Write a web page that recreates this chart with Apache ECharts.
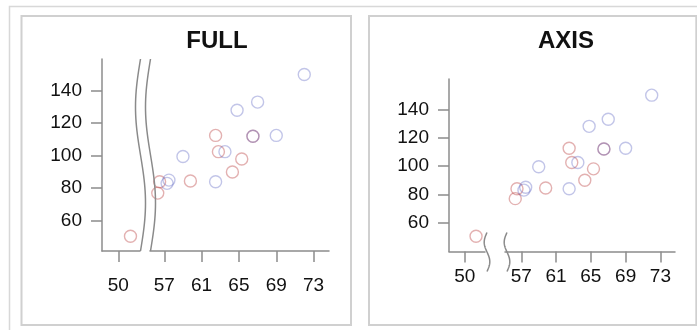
<!DOCTYPE html>
<html>
<head>
<meta charset="utf-8">
<script src="https://cdn.jsdelivr.net/npm/echarts@6/dist/echarts.min.js"></script>
<style>
  html, body { margin: 0; padding: 0; background: #fff; }
  #chart { width: 697px; height: 330px; }
</style>
</head>
<body>
<div id="chart"></div>
<script>
// Height (in) against weight (lb), one series per sex
const heightF = [56.5, 65.3, 62.8, 59.8, 62.5, 51.3, 64.3, 56.3, 66.5];
const weightF = [84.0, 98.0, 102.5, 84.5, 112.5, 50.5, 90.0, 77.0, 112.0];
const heightM = [69.0, 63.5, 57.3, 62.5, 59.0, 72.0, 64.8, 67.0, 57.5, 66.5];
const weightM = [112.5, 102.5, 83.0, 84.0, 99.5, 150.0, 128.0, 133.0, 85.0, 112.0];

// Tick values on each side of the x-axis break, and on the y-axis
const xTicksLow = [50];
const xTicksHigh = [57, 61, 65, 69, 73];
const yTicks = [60, 80, 100, 120, 140];

const panelTitles = ['FULL', 'AXIS'];

// Layout of the two panels: each one is split into a low and a high x segment
const panels = [
  { title: panelTitles[0], mode: 'full', left: 102, top: 59, bottom: 251, lowWidth: 38, gap: 10, right: 329,
    yMin: 41.4, yMax: 159.5, xMin: 48.25, lowMax: 52.32, highMin: 55.47, xMax: 74.65,
    xLabelMargin: 25, titleX: 217 },
  { title: panelTitles[1], mode: 'axis', left: 449, top: 79, bottom: 251.5, lowWidth: 36, gap: 20, right: 675,
    yMin: 39.7, yMax: 161.4, xMin: 48.19, lowMax: 52.33, highMin: 55.12, xMax: 74.68,
    xLabelMargin: 16, titleX: 566 }
];

const AXIS_COLOR = '#8c8c8c';
const LABEL_FONT = { fontFamily: 'Liberation Sans', fontSize: 19, color: '#111' };
const COLOR_F = 'rgba(185, 60, 60, 0.5)';
const COLOR_M = 'rgba(85, 95, 190, 0.45)';

const grids = [], xAxes = [], yAxes = [], series = [];

function pairs(xs, ys, keep) {
  const out = [];
  xs.forEach((x, i) => { if (keep(x)) out.push([x, ys[i]]); });
  return out;
}

// Wavy break marker drawn on the axis scale of a segment
function breakMark(panel, shift) {
  return function (params, api) {
    const xv = api.value(0);
    const base = api.coord([xv, panel.yMin]);
    const topP = api.coord([xv, panel.yMax]);
    let y0, y1, amp, x0 = base[0] + shift;
    if (panel.mode === 'full') {
      y0 = topP[1]; y1 = base[1]; amp = 5;
    } else {
      y0 = base[1] - 19; y1 = base[1] + 20; amp = 2.8;
    }
    const pts = [];
    for (let k = 0; k <= 48; k++) {
      const t = k / 48;
      pts.push([x0 - amp * Math.sin(2 * Math.PI * t), y0 + t * (y1 - y0)]);
    }
    return {
      type: 'polyline',
      shape: { points: pts },
      style: { stroke: '#8a8a8a', lineWidth: 1.5, fill: null }
    };
  };
}

panels.forEach((p) => {
  const h = p.bottom - p.top;
  const segs = [
    { left: p.left, width: p.lowWidth, min: p.xMin, max: p.lowMax, ticks: xTicksLow, showY: true,
      keep: (x) => x < p.lowMax, edge: p.lowMax, shift: p.mode === 'full' ? 0.5 : 2 },
    { left: p.left + p.lowWidth + p.gap, width: p.right - (p.left + p.lowWidth + p.gap),
      min: p.highMin, max: p.xMax, ticks: xTicksHigh, showY: false,
      keep: (x) => x > p.highMin, edge: p.highMin, shift: p.mode === 'full' ? 0.5 : 2 }
  ];
  segs.forEach((s) => {
    const gi = grids.length;
    grids.push({ left: s.left, top: p.top, width: s.width, height: h,
                 containLabel: false, outerBoundsMode: 'none' });
    xAxes.push({
      type: 'value', gridIndex: gi, min: s.min, max: s.max,
      axisLine: { show: true, onZero: false, lineStyle: { color: AXIS_COLOR, width: 1.5 } },
      axisTick: { show: true, length: 11, customValues: s.ticks, lineStyle: { color: AXIS_COLOR, width: 1.5 } },
      axisLabel: Object.assign({ customValues: s.ticks, margin: p.xLabelMargin }, LABEL_FONT),
      splitLine: { show: false }
    });
    yAxes.push({
      type: 'value', gridIndex: gi, min: p.yMin, max: p.yMax, show: s.showY,
      axisLine: { show: true, lineStyle: { color: AXIS_COLOR, width: 1.5 } },
      axisTick: { show: true, length: 11, customValues: yTicks, lineStyle: { color: AXIS_COLOR, width: 1.5 } },
      axisLabel: Object.assign({ customValues: yTicks, margin: 20 }, LABEL_FONT),
      splitLine: { show: false }
    });
    [[heightF, weightF, COLOR_F], [heightM, weightM, COLOR_M]].forEach(([xs, ys, c]) => {
      series.push({
        type: 'scatter', xAxisIndex: gi, yAxisIndex: gi,
        data: pairs(xs, ys, s.keep),
        symbol: 'circle', symbolSize: 12,
        itemStyle: { color: 'transparent', borderColor: c, borderWidth: 1.4 },
        emphasis: { disabled: true }, silent: true
      });
    });
    series.push({
      type: 'custom', xAxisIndex: gi, yAxisIndex: gi, silent: true, clip: false,
      data: [[s.edge]], renderItem: breakMark(p, s.shift), z: 5
    });
  });
});

// Panel frames and titles
const graphic = [
  { type: 'rect', shape: { x: 9.5, y: 6.5, width: 720, height: 360 },
    style: { fill: null, stroke: '#d8d8d8', lineWidth: 1.5 }, silent: true },
  { type: 'rect', shape: { x: 21.5, y: 16, width: 329.5, height: 309 },
    style: { fill: null, stroke: '#d0d0d0', lineWidth: 2 }, silent: true },
  { type: 'rect', shape: { x: 369, y: 16, width: 327.3, height: 309 },
    style: { fill: null, stroke: '#d0d0d0', lineWidth: 2 }, silent: true }
];
panels.forEach((p) => {
  graphic.push({
    type: 'text', x: p.titleX, y: 41, silent: true,
    style: { text: p.title, fontFamily: 'Liberation Sans', fontWeight: 'bold', fontSize: 24,
             fill: '#111', align: 'center', verticalAlign: 'middle' }
  });
});

const chart = echarts.init(document.getElementById('chart'), null, { renderer: 'canvas' });
chart.setOption({
  animation: false,
  backgroundColor: '#fff',
  grid: grids,
  xAxis: xAxes,
  yAxis: yAxes,
  series: series,
  graphic: graphic
});
</script>
</body>
</html>
